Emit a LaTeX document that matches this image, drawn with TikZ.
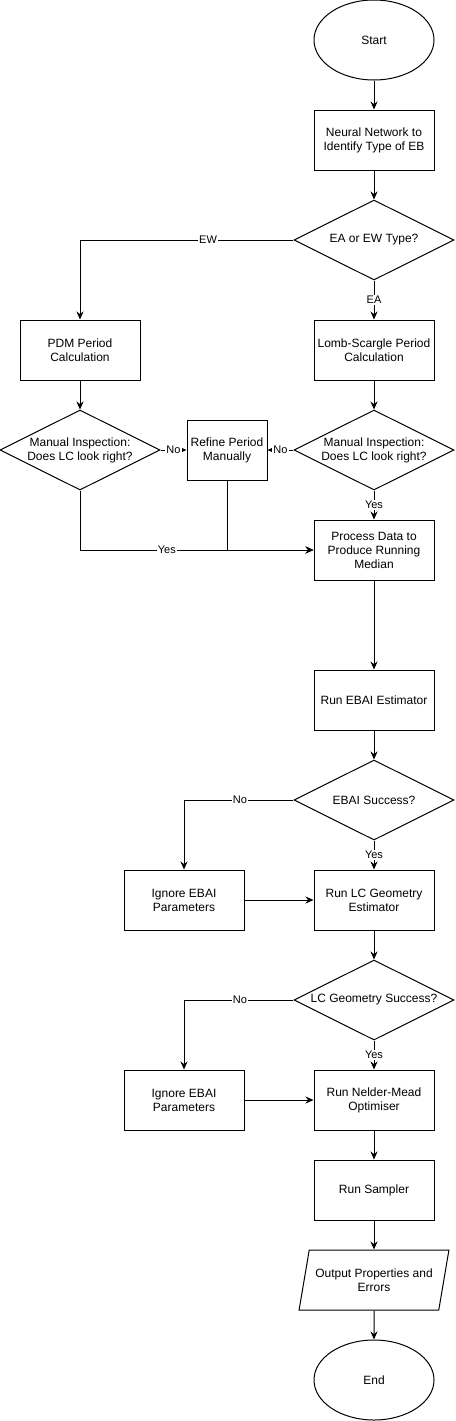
\documentclass[tikz,border=0pt]{standalone}
\usepackage{fontspec}
\setmainfont{Liberation Sans}
\usetikzlibrary{shapes.geometric,arrows.meta}

\tikzset{
  box/.style={draw, line width=1pt, minimum width=120pt, minimum height=60pt, align=center, inner sep=2pt, font=\fontsize{12}{14}\selectfont},
  term/.style={draw, line width=1pt, ellipse, minimum width=120pt, minimum height=80pt, inner sep=0pt, font=\fontsize{12}{14}\selectfont},
  ask/.style={draw, line width=1pt, diamond, aspect=2, minimum width=160pt, minimum height=80pt, inner sep=0pt, align=center, font=\fontsize{12}{14}\selectfont},
  io/.style={draw, line width=1pt, trapezium, trapezium left angle=68, trapezium right angle=112, trapezium stretches=true, minimum width=150pt, minimum height=60pt, inner sep=0pt, align=center, font=\fontsize{12}{14}\selectfont},
  flow/.style={line width=1pt, -{Stealth[length=8pt,width=7pt]}},
  lbl/.style={fill=white, inner sep=1pt, font=\fontsize{11}{13}\selectfont}
}

\begin{document}
\begin{tikzpicture}[x=1pt, y=-1pt]
\useasboundingbox (0,0) rectangle (455,1421);

% main column
\node[term] (start) at (374,40) {Start};
\node[box] (nn) at (374,140) {Neural Network to\\Identify Type of EB};
\node[ask] (type) at (374,240) {EA or EW Type?};
\node[box] (pdm) at (80,350) {PDM Period\\Calculation};
\node[box] (ls) at (374,350) {Lomb-Scargle Period\\Calculation};
\node[ask] (checkL) at (80,450) {Manual Inspection:\\Does LC look right?};
\node[ask] (checkR) at (374,450) {Manual Inspection:\\Does LC look right?};
\node[box, minimum width=80pt] (refine) at (227,450) {Refine Period\\Manually};
\node[box] (median) at (374,550) {Process Data to\\Produce Running\\Median};
\node[box] (ebai) at (374,700) {Run EBAI Estimator};
\node[ask] (ebaiok) at (374,800) {EBAI Success?};
\node[box] (skipA) at (184,900) {Ignore EBAI\\Parameters};
\node[box] (geom) at (374,900) {Run LC Geometry\\Estimator};
\node[ask] (geomok) at (374,1000) {LC Geometry Success?};
\node[box] (skipB) at (184,1100) {Ignore EBAI\\Parameters};
\node[box] (nm) at (374,1100) {Run Nelder-Mead\\Optimiser};
\node[box] (sampler) at (374,1190) {Run Sampler};
\node[io] (out) at (374,1280) {Output Properties and\\Errors};
\node[term] (end) at (374,1380) {End};

% connectors
\draw[flow] (start) -- (nn);
\draw[flow] (nn) -- (type);
\draw[flow] (type) -| node[lbl, pos=0.2] {EW} (pdm);
\draw[flow] (type) -- node[lbl] {EA} (ls);
\draw[flow] (pdm) -- (checkL);
\draw[flow] (ls) -- (checkR);
\draw[flow] (checkL) -- node[lbl] {No} (refine);
\draw[flow] (checkR) -- node[lbl] {No} (refine);
\draw[flow] (checkR) -- node[lbl] {Yes} (median);
\draw[flow] (checkL) |- node[lbl, pos=0.686] {Yes} (median);
\draw[flow] (refine) |- (median);
\draw[flow] (median) -- (ebai);
\draw[flow] (ebai) -- (ebaiok);
\draw[flow] (ebaiok) -| node[lbl, pos=0.245] {No} (skipA);
\draw[flow] (ebaiok) -- node[lbl] {Yes} (geom);
\draw[flow] (skipA) -- (geom);
\draw[flow] (geom) -- (geomok);
\draw[flow] (geomok) -| node[lbl, pos=0.245] {No} (skipB);
\draw[flow] (geomok) -- node[lbl] {Yes} (nm);
\draw[flow] (skipB) -- (nm);
\draw[flow] (nm) -- (sampler);
\draw[flow] (sampler) -- (out);
\draw[flow] (out) -- (end);
\end{tikzpicture}
\end{document}
